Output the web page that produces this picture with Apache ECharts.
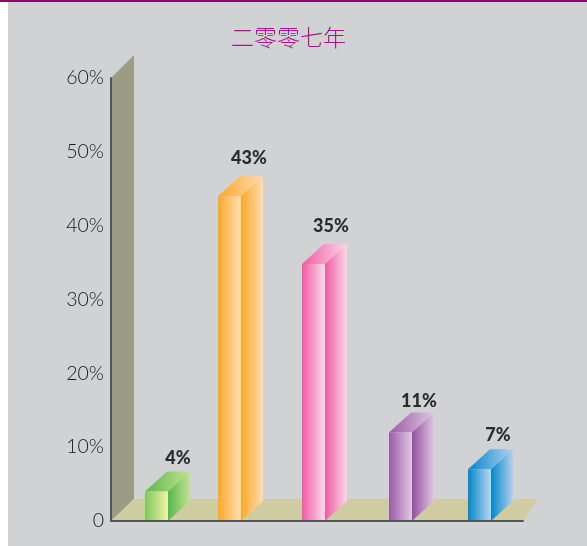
<!DOCTYPE html>
<html>
<head>
<meta charset="utf-8">
<title>二零零七年</title>
<style>
  html, body { margin: 0; padding: 0; background: #fff; }
  #chart { width: 587px; height: 546px; }
</style>
<script src="https://cdn.jsdelivr.net/npm/echarts@6/dist/echarts.min.js"></script>
</head>
<body>
<div id="chart"></div>
<script>
// data
const categories = ['A', 'B', 'C', 'D', 'E'];
const barValues = [4, 44, 34.8, 12, 7];        // height as drawn
const barLabels = ['4%', '43%', '35%', '11%', '7%']; // printed text, differs a little from the height
const yTicks = { min: 0, max: 60, interval: 10 };

// layout / style
const barColors = [
  { front: ['#7cc85a', '#f3f4a6'], side: ['#55b850', '#c6e190'], top: ['#5cb94f', '#c6e190'] },
  { front: ['#ffa726', '#ffdfb6'], side: ['#ffa726', '#ffdcae'], top: ['#ffa726', '#ffdcae'] },
  { front: ['#f25aa5', '#fcdcea'], side: ['#f25aa5', '#fbd6e7'], top: ['#f25aa5', '#fbd6e7'] },
  { front: ['#9a5ba6', '#e2c9e5'], side: ['#9350a2', '#dfc5e3'], top: ['#9a5ba6', '#dfc5e3'] },
  { front: ['#0088cc', '#bcd5f0'], side: ['#0088cc', '#b5d0ee'], top: ['#0088cc', '#b5d0ee'] }
];
const barNudge = [4.3, -5.1, -3.5, 1.1, -2.3];  // the bars are not evenly spaced
const labelShift = [21.5, 19.5, 17.5, 18.5, 18.5];
const labelLift = [13, 18, 18, 11, 14];
const barWidth = 23;
const depthX = 22;
const depthY = 20;
const textFont = 'Lato';

function grad(pair) {
  return new echarts.graphic.LinearGradient(0, 0, 1, 0, [
    { offset: 0, color: pair[0] },
    { offset: 1, color: pair[1] }
  ]);
}

function renderBackdrop(params, api) {
  const g = params.coordSys;
  const dx = 23;
  const dy = 22;
  const bottom = g.y + g.height;
  return {
    type: 'group',
    children: [
      {
        type: 'polygon',
        shape: { points: [[g.x, g.y], [g.x + dx, g.y - dy - 1], [g.x + dx, bottom - dy], [g.x, bottom]] },
        style: { fill: '#9c9b85' }
      },
      {
        type: 'polygon',
        shape: { points: [[g.x, bottom], [g.x + dx, bottom - dy], [g.x + g.width + 15, bottom - dy], [g.x + g.width, bottom]] },
        style: { fill: '#cfcca1' }
      }
    ]
  };
}

function renderBar(params, api) {
  const i = params.dataIndex;
  const c = barColors[i];
  const base = api.coord([api.value(0), 0]);
  const head = api.coord([api.value(0), api.value(1)]);
  const x0 = base[0] + barNudge[i] - barWidth / 2;
  const x1 = x0 + barWidth;
  const y0 = base[1];
  const y1 = head[1];
  return {
    type: 'group',
    children: [
      {
        type: 'polygon',
        shape: { points: [[x0, y1], [x0 + depthX, y1 - depthY], [x1 + depthX, y1 - depthY], [x1, y1]] },
        style: { fill: grad(c.top) }
      },
      {
        type: 'polygon',
        shape: { points: [[x1, y1], [x1 + depthX, y1 - depthY], [x1 + depthX, y0 - depthY], [x1, y0]] },
        style: { fill: grad(c.side) }
      },
      {
        type: 'rect',
        shape: { x: x0, y: y1, width: barWidth, height: y0 - y1 },
        style: { fill: grad(c.front) }
      },
      {
        type: 'text',
        style: {
          x: x0 + barWidth / 2 + labelShift[i],
          y: y1 - depthY - labelLift[i],
          text: barLabels[i],
          align: 'center',
          verticalAlign: 'middle',
          fill: '#2b2b2b',
          font: '900 18px ' + textFont
        }
      }
    ]
  };
}

const chart = echarts.init(document.getElementById('chart'), null, { renderer: 'canvas' });
chart.setOption({
  animation: false,
  backgroundColor: '#ffffff',
  title: {
    text: '二零零七年',
    left: 226,
    top: 21,
    textStyle: {
      color: '#a3178c',
      fontFamily: 'Noto Sans CJK SC',
      fontWeight: 300,
      fontSize: 23
    }
  },
  graphic: [
    { type: 'rect', z: -10, silent: true, shape: { x: 8, y: 2, width: 579, height: 544 }, style: { fill: '#d1d2d4' } },
    { type: 'rect', z: -10, silent: true, shape: { x: 0, y: 0, width: 587, height: 2 }, style: { fill: '#8e0a5e' } }
  ],
  grid: { left: 111, right: 64, top: 78, bottom: 25 },
  xAxis: {
    type: 'category',
    data: categories,
    z: 5,
    axisLine: { lineStyle: { color: '#555555', width: 2 } },
    axisTick: { show: false },
    axisLabel: { show: false }
  },
  yAxis: {
    type: 'value',
    min: yTicks.min,
    max: yTicks.max,
    interval: yTicks.interval,
    z: 5,
    axisLine: { show: true, lineStyle: { color: '#555555', width: 2 } },
    axisTick: { show: false },
    splitLine: { show: false },
    axisLabel: {
      margin: 7,
      color: '#1a1a1a',
      fontFamily: textFont,
      fontWeight: 300,
      fontSize: 19.5,
      padding: [3, 0, 0, 0],
      formatter: function (v) {
        return v === 0 ? '0' : v + '%';
      }
    }
  },
  series: [
    {
      type: 'custom',
      z: 1,
      clip: false,
      silent: true,
      renderItem: renderBackdrop,
      data: [[0, 0]]
    },
    {
      type: 'custom',
      z: 2,
      clip: false,
      silent: true,
      renderItem: renderBar,
      encode: { x: 0, y: 1 },
      data: barValues.map(function (v, i) { return [i, v]; })
    }
  ]
});
</script>
</body>
</html>
